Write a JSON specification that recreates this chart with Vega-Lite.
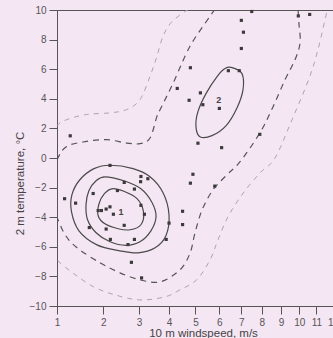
{
  "$schema": "https://vega.github.io/schema/vega-lite/v6.json",
  "autosize": "none",
  "width": 276,
  "height": 296,
  "padding": {"left": 57, "top": 10, "right": 0, "bottom": 32},
  "background": "#f5e6f3",
  "config": {
    "view": {"stroke": "#555555", "strokeWidth": 1},
    "axis": {
      "domainColor": "#555555", "tickColor": "#555555", "labelColor": "#555555",
      "labelFont": "Liberation Sans", "labelFontSize": 10, "titleFont": "Liberation Sans",
      "titleFontSize": 11.5, "titleFontWeight": "normal", "titleColor": "#444444",
      "grid": false, "tickSize": 8, "labelPadding": 3, "labelOverlap": false, "labelFlush": false
    }
  },
  "datasets": {
    "pts": [
      {"ws": 7.5, "t": 9.9}, {"ws": 7.0, "t": 9.3}, {"ws": 7.1, "t": 8.5}, {"ws": 7.0, "t": 7.4},
      {"ws": 4.8, "t": 6.1}, {"ws": 6.4, "t": 5.9}, {"ws": 6.9, "t": 5.9}, {"ws": 4.3, "t": 4.7},
      {"ws": 5.2, "t": 4.4}, {"ws": 4.75, "t": 3.9}, {"ws": 5.3, "t": 3.6}, {"ws": 6.0, "t": 3.35},
      {"ws": 9.95, "t": 9.6}, {"ws": 10.6, "t": 9.7}, {"ws": 7.9, "t": 1.6}, {"ws": 5.1, "t": 1.0},
      {"ws": 6.1, "t": 0.7}, {"ws": 4.9, "t": -1.1}, {"ws": 4.8, "t": -1.7}, {"ws": 5.8, "t": -1.9},
      {"ws": 4.5, "t": -3.6}, {"ws": 4.5, "t": -4.5}, {"ws": 4.0, "t": -4.4}, {"ws": 3.9, "t": -5.5},
      {"ws": 1.25, "t": 1.5}, {"ws": 2.17, "t": -0.5}, {"ws": 3.06, "t": -1.25}, {"ws": 3.28, "t": -1.4},
      {"ws": 3.05, "t": -1.6}, {"ws": 2.56, "t": -1.65}, {"ws": 1.75, "t": -2.4}, {"ws": 2.86, "t": -2.1},
      {"ws": 2.37, "t": -2.2}, {"ws": 1.14, "t": -2.75}, {"ws": 1.36, "t": -3.05}, {"ws": 3.06, "t": -3.2},
      {"ws": 2.17, "t": -3.3}, {"ws": 2.07, "t": -3.45}, {"ws": 1.87, "t": -3.55}, {"ws": 1.95, "t": -3.55},
      {"ws": 2.26, "t": -3.8}, {"ws": 3.17, "t": -3.8}, {"ws": 2.56, "t": -4.55}, {"ws": 1.66, "t": -4.7},
      {"ws": 2.07, "t": -4.8}, {"ws": 2.18, "t": -5.5}, {"ws": 2.86, "t": -5.5}, {"ws": 2.67, "t": -5.85},
      {"ws": 2.77, "t": -7.05}, {"ws": 3.08, "t": -8.1}
    ],
    "ell": [
      {"c": "o", "i": 1, "ws": 2.17, "t": -0.49}, {"c": "o", "i": 2, "ws": 2.82, "t": -0.72},
      {"c": "o", "i": 3, "ws": 3.35, "t": -1.27}, {"c": "o", "i": 4, "ws": 3.79, "t": -2.35},
      {"c": "o", "i": 5, "ws": 4.0, "t": -3.83}, {"c": "o", "i": 6, "ws": 3.89, "t": -5.26},
      {"c": "o", "i": 7, "ws": 3.52, "t": -6.07}, {"c": "o", "i": 8, "ws": 2.97, "t": -6.41},
      {"c": "o", "i": 9, "ws": 2.44, "t": -6.27}, {"c": "o", "i": 10, "ws": 1.84, "t": -5.87},
      {"c": "o", "i": 11, "ws": 1.43, "t": -4.92}, {"c": "o", "i": 12, "ws": 1.275, "t": -3.63},
      {"c": "o", "i": 13, "ws": 1.285, "t": -2.48}, {"c": "o", "i": 14, "ws": 1.45, "t": -1.47},
      {"c": "o", "i": 15, "ws": 1.77, "t": -0.72},
      {"c": "m", "i": 1, "ws": 2.04, "t": -1.27}, {"c": "m", "i": 2, "ws": 2.55, "t": -1.54},
      {"c": "m", "i": 3, "ws": 3.06, "t": -2.08}, {"c": "m", "i": 4, "ws": 3.42, "t": -3.02},
      {"c": "m", "i": 5, "ws": 3.55, "t": -3.97}, {"c": "m", "i": 6, "ws": 3.38, "t": -4.92},
      {"c": "m", "i": 7, "ws": 3.03, "t": -5.66}, {"c": "m", "i": 8, "ws": 2.61, "t": -5.9},
      {"c": "m", "i": 9, "ws": 2.17, "t": -5.66}, {"c": "m", "i": 10, "ws": 1.82, "t": -5.05},
      {"c": "m", "i": 11, "ws": 1.62, "t": -4.17}, {"c": "m", "i": 12, "ws": 1.585, "t": -3.16},
      {"c": "m", "i": 13, "ws": 1.65, "t": -2.21}, {"c": "m", "i": 14, "ws": 1.82, "t": -1.54},
      {"c": "n", "i": 1, "ws": 2.22, "t": -2.08}, {"c": "n", "i": 2, "ws": 2.55, "t": -2.25},
      {"c": "n", "i": 3, "ws": 2.94, "t": -2.75}, {"c": "n", "i": 4, "ws": 3.14, "t": -3.63},
      {"c": "n", "i": 5, "ws": 3.06, "t": -4.51}, {"c": "n", "i": 6, "ws": 2.73, "t": -4.85},
      {"c": "n", "i": 7, "ws": 2.39, "t": -4.78}, {"c": "n", "i": 8, "ws": 2.04, "t": -4.45},
      {"c": "n", "i": 9, "ws": 1.87, "t": -3.9}, {"c": "n", "i": 10, "ws": 1.89, "t": -3.09},
      {"c": "n", "i": 11, "ws": 2.02, "t": -2.42},
      {"c": "e2", "i": 1, "ws": 6.57, "t": 6.11}, {"c": "e2", "i": 2, "ws": 7.03, "t": 5.7},
      {"c": "e2", "i": 3, "ws": 7.08, "t": 4.62}, {"c": "e2", "i": 4, "ws": 6.8, "t": 3.4},
      {"c": "e2", "i": 5, "ws": 6.3, "t": 2.19}, {"c": "e2", "i": 6, "ws": 5.68, "t": 1.51},
      {"c": "e2", "i": 7, "ws": 5.18, "t": 1.44}, {"c": "e2", "i": 8, "ws": 5.02, "t": 2.12},
      {"c": "e2", "i": 9, "ws": 5.1, "t": 3.13}, {"c": "e2", "i": 10, "ws": 5.43, "t": 4.35},
      {"c": "e2", "i": 11, "ws": 5.9, "t": 5.5}, {"c": "e2", "i": 12, "ws": 6.25, "t": 6.04}
    ],
    "dark": [
      {"i": 1, "ws": 5.81, "t": 10.03}, {"i": 2, "ws": 5.6, "t": 9.58}, {"i": 3, "ws": 4.785, "t": 7.55},
      {"i": 4, "ws": 4.15, "t": 5.07}, {"i": 5, "ws": 3.69, "t": 3.27}, {"i": 6, "ws": 3.58, "t": 2.81},
      {"i": 7, "ws": 3.35, "t": 1.35}, {"i": 8, "ws": 3.03, "t": 0.97}, {"i": 9, "ws": 2.63, "t": 1.01},
      {"i": 10, "ws": 2.085, "t": 1.24}, {"i": 11, "ws": 1.6, "t": 1.12}, {"i": 12, "ws": 1.18, "t": 0.78},
      {"i": 13, "ws": 1.0, "t": -0.12}, {"i": 14, "ws": 0.86, "t": -1.6}, {"i": 15, "ws": 0.86, "t": -3.2},
      {"i": 16, "ws": 1.0, "t": -4.04}, {"i": 17, "ws": 1.15, "t": -5.19}, {"i": 18, "ws": 1.39, "t": -6.07},
      {"i": 19, "ws": 1.915, "t": -7.08}, {"i": 20, "ws": 2.44, "t": -7.76}, {"i": 21, "ws": 3.03, "t": -8.23},
      {"i": 22, "ws": 3.69, "t": -8.37}, {"i": 23, "ws": 4.4, "t": -7.56}, {"i": 24, "ws": 4.785, "t": -6.43},
      {"i": 25, "ws": 4.98, "t": -5.07}, {"i": 26, "ws": 5.27, "t": -3.5}, {"i": 27, "ws": 5.73, "t": -2.14},
      {"i": 28, "ws": 6.34, "t": -1.13}, {"i": 29, "ws": 6.94, "t": -0.25}, {"i": 30, "ws": 7.91, "t": 1.71},
      {"i": 31, "ws": 8.58, "t": 3.47}, {"i": 32, "ws": 9.22, "t": 5.3}, {"i": 33, "ws": 9.77, "t": 6.65},
      {"i": 34, "ws": 10.05, "t": 7.8}, {"i": 35, "ws": 9.99, "t": 9.02}, {"i": 36, "ws": 9.935, "t": 10.03}
    ],
    "light": [
      {"i": 1, "ws": 4.71, "t": 10.03}, {"i": 2, "ws": 4.11, "t": 9.22}, {"i": 3, "ws": 3.79, "t": 8.23},
      {"i": 4, "ws": 3.58, "t": 6.87}, {"i": 5, "ws": 3.35, "t": 5.52}, {"i": 6, "ws": 3.03, "t": 3.94},
      {"i": 7, "ws": 2.63, "t": 3.27}, {"i": 8, "ws": 2.17, "t": 3.05}, {"i": 9, "ws": 1.6, "t": 2.94},
      {"i": 10, "ws": 1.18, "t": 2.59}, {"i": 11, "ws": 1.0, "t": 2.18}, {"i": 12, "ws": 0.86, "t": 1.2},
      {"i": 13, "ws": 0.86, "t": -6.0}, {"i": 14, "ws": 1.0, "t": -6.88}, {"i": 15, "ws": 1.31, "t": -7.78},
      {"i": 16, "ws": 1.75, "t": -8.69}, {"i": 17, "ws": 2.305, "t": -9.25}, {"i": 18, "ws": 3.03, "t": -9.59},
      {"i": 19, "ws": 3.86, "t": -9.38}, {"i": 20, "ws": 4.4, "t": -8.91}, {"i": 21, "ws": 5.05, "t": -8.23},
      {"i": 22, "ws": 5.6, "t": -6.88}, {"i": 23, "ws": 5.94, "t": -5.53}, {"i": 24, "ws": 6.39, "t": -3.95},
      {"i": 25, "ws": 7.09, "t": -2.37}, {"i": 26, "ws": 7.91, "t": -1.01}, {"i": 27, "ws": 8.68, "t": 0.0},
      {"i": 28, "ws": 9.6, "t": 2.59}, {"i": 29, "ws": 10.56, "t": 5.36}, {"i": 30, "ws": 11.09, "t": 7.33},
      {"i": 31, "ws": 11.61, "t": 9.81}, {"i": 32, "ws": 11.7, "t": 10.03}
    ],
    "labels": [
      {"ws": 2.47, "t": -3.65, "lab": "1"}, {"ws": 5.97, "t": 3.94, "lab": "2"}
    ]
  },
  "encoding": {
    "x": {
      "field": "ws", "type": "quantitative",
      "scale": {"type": "sqrt", "domain": [1, 12], "nice": false, "zero": false},
      "axis": {
        "values": [1, 2, 3, 4, 5, 6, 7, 8, 9, 10, 11, 12],
        "title": "10 m windspeed, m/s", "titleX": 146, "titleY": 27,
        "titleAlign": "center", "titleBaseline": "middle"
      }
    },
    "y": {
      "field": "t", "type": "quantitative",
      "scale": {"domain": [-10, 10], "nice": false, "zero": false},
      "axis": {
        "values": [-10, -8, -6, -4, -2, 0, 2, 4, 6, 8, 10],
        "title": "2 m temperature, °C", "titleX": -37, "titleY": 173,
        "titleAngle": -90, "titleAlign": "center", "titleBaseline": "middle"
      }
    }
  },
  "layer": [
    {
      "data": {"name": "light"},
      "mark": {"type": "line", "interpolate": "cardinal", "clip": true, "stroke": "#b3a2ae", "strokeWidth": 1, "strokeDash": [5, 5]},
      "encoding": {"order": {"field": "i", "type": "quantitative"}}
    },
    {
      "data": {"name": "dark"},
      "mark": {"type": "line", "interpolate": "cardinal", "clip": true, "stroke": "#555555", "strokeWidth": 1.2, "strokeDash": [6, 5]},
      "encoding": {"order": {"field": "i", "type": "quantitative"}}
    },
    {
      "data": {"name": "ell"},
      "mark": {"type": "line", "interpolate": "cardinal-closed", "clip": true, "stroke": "#4a4a4a", "strokeWidth": 1.2},
      "encoding": {
        "detail": {"field": "c", "type": "nominal"},
        "order": {"field": "i", "type": "quantitative"}
      }
    },
    {
      "data": {"name": "pts"},
      "mark": {"type": "point", "shape": "square", "filled": true, "size": 10, "color": "#3a3a3a", "opacity": 1}
    },
    {
      "data": {"name": "labels"},
      "mark": {"type": "text", "font": "Liberation Sans", "fontSize": 9, "color": "#444444", "fontWeight": "bold"},
      "encoding": {"text": {"field": "lab", "type": "nominal"}}
    }
  ]
}
